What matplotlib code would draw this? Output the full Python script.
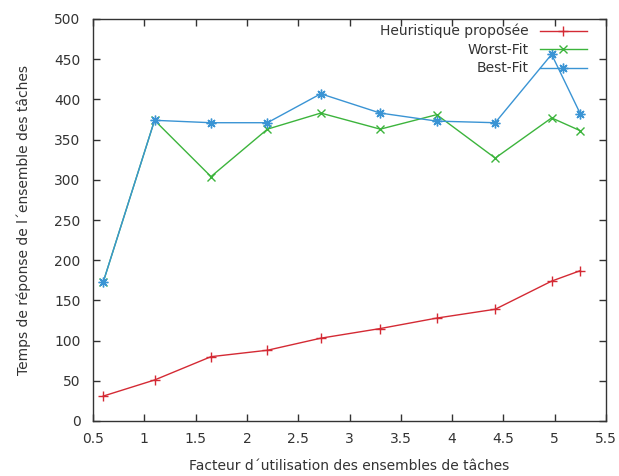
import matplotlib
matplotlib.use("Agg")
import matplotlib.pyplot as plt

# Data
x_vals = [0.6, 1.1, 1.65, 2.2, 2.72, 3.3, 3.85, 4.42, 4.97, 5.25]
heuristique = [31, 51, 80, 88, 103, 115, 128, 139, 174, 187]
worst_fit = [173, 374, 304, 363, 383, 363, 381, 327, 377, 361]
best_fit = [173, 374, 371, 371, 407, 383, 373, 371, 456, 382]
labels = ["Heuristique proposée", "Worst-Fit", "Best-Fit"]
x_ticks = [0.5, 1, 1.5, 2, 2.5, 3, 3.5, 4, 4.5, 5, 5.5]
x_tick_labels = ["0.5", "1", "1.5", "2", "2.5", "3", "3.5", "4", "4.5", "5", "5.5"]
y_ticks = [0, 50, 100, 150, 200, 250, 300, 350, 400, 450, 500]

plt.rcParams['font.family'] = ['DejaVu Sans']
plt.rcParams['font.size'] = 10

fig = plt.figure(figsize=(6.19, 4.76), dpi=100)
ax = fig.add_axes([93/619, 1 - 421/476, (606-93)/619, (421-19)/476])

c_red = '#d42a34'
c_green = '#3cb43c'
c_blue = '#3a94d4'

ax.plot(x_vals, heuristique, color=c_red, lw=1.0, marker='+', ms=7, mew=1.0, label=labels[0])
ax.plot(x_vals, worst_fit, color=c_green, lw=1.0, marker='x', ms=6, mew=1.0, label=labels[1])
ax.plot(x_vals, best_fit, color=c_blue, lw=1.0, marker=(8, 2, 0), ms=7, mew=1.0, label=labels[2])

ax.set_xlim(0.5, 5.5)
ax.set_ylim(0, 500)
ax.set_xticks(x_ticks)
ax.set_xticklabels(x_tick_labels)
ax.set_yticks(y_ticks)
ax.tick_params(direction='in', length=5, width=1, top=True, right=True,
               colors='#333333', labelsize=10)
ax.tick_params(axis='x', pad=8)
ax.tick_params(axis='y', pad=9)
for s in ax.spines.values():
    s.set_color('#333333')
    s.set_linewidth(1.0)

ax.set_xlabel("Facteur d\u00b4utilisation des ensembles de tâches", color='#333333', labelpad=9)
ax.set_ylabel("Temps de réponse de l\u00b4ensemble des tâches", color='#333333', labelpad=17)

leg = ax.legend(loc='upper right', bbox_to_anchor=((587-93)/513, (421-24)/402),
                frameon=False, markerfirst=False, borderaxespad=0, borderpad=0,
                handlelength=3.4, handletextpad=0.8, labelspacing=0.32)
for t in leg.get_texts():
    t.set_color('#333333')

fig.savefig("out.png", dpi=100)
